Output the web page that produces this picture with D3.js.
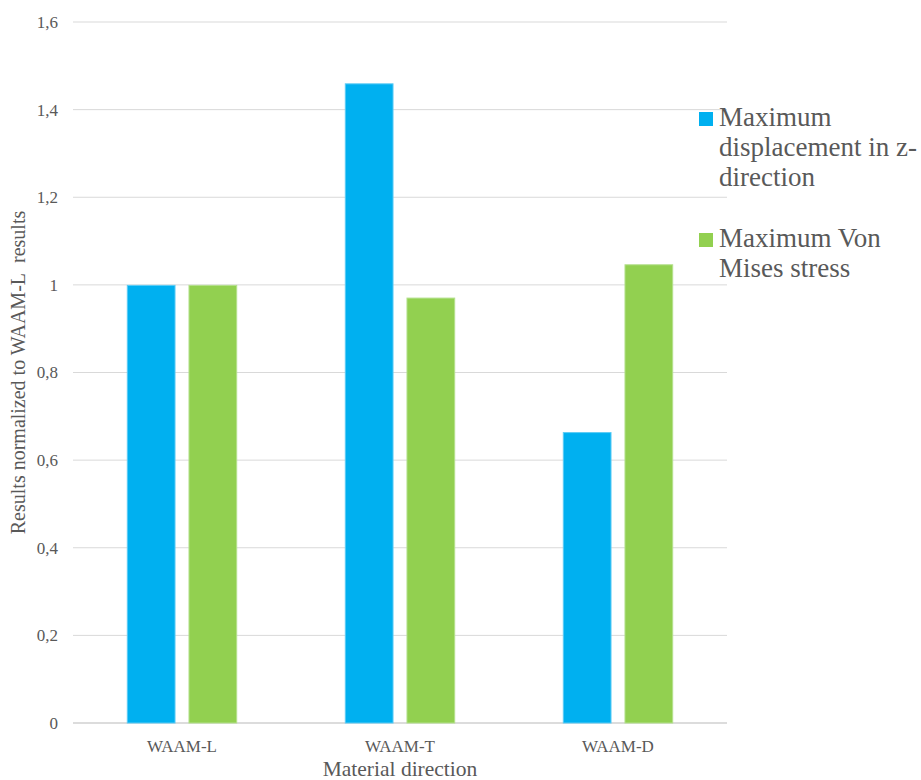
<!DOCTYPE html>
<html>
<head>
<meta charset="utf-8">
<script src="https://cdn.jsdelivr.net/npm/d3@7"></script>
<style>
  body { margin: 0; background: #fff; }
  text { font-family: 'Liberation Serif', 'Times New Roman', serif; fill: #595959; }
</style>
</head>
<body>
<div id="chart"></div>
<script>
const categories = ['WAAM-L', 'WAAM-T', 'WAAM-D'];
const seriesNames = ['Maximum displacement in z-direction', 'Maximum Von Mises stress'];
const displacement = [1.0, 1.46, 0.664];
const vonMises = [1.0, 0.971, 1.047];
const yTicks = [0, 0.2, 0.4, 0.6, 0.8, 1, 1.2, 1.4, 1.6];
const colors = ['#00B0F0', '#92D050'];
const strokes = ['#5ccbf5', '#b4e08c'];

const width = 921, height = 780;
const margin = { top: 22, right: 194, bottom: 57, left: 73 };
const groupWidth = 110.4;

const svg = d3.select('#chart')
  .append('svg')
  .attr('width', width)
  .attr('height', height);

const x = d3.scaleBand()
  .domain(categories)
  .range([margin.left, width - margin.right]);

const inner = d3.scaleBand()
  .domain([0, 1])
  .range([0, groupWidth])
  .paddingInner(0.21);

const y = d3.scaleLinear()
  .domain([0, 1.6])
  .range([height - margin.bottom, margin.top]);

// gridlines
svg.append('g')
  .selectAll('line')
  .data(yTicks)
  .enter()
  .append('line')
  .attr('x1', margin.left)
  .attr('x2', width - margin.right)
  .attr('y1', (d) => y(d))
  .attr('y2', (d) => y(d))
  .attr('stroke', (d) => (d === 0 ? '#d0d0d0' : '#d9d9d9'))
  .attr('stroke-width', (d) => (d === 0 ? 1.5 : 1));

// y tick labels
svg.append('g')
  .selectAll('text')
  .data(yTicks)
  .enter()
  .append('text')
  .attr('x', 58)
  .attr('y', (d) => y(d))
  .attr('dy', '0.35em')
  .attr('text-anchor', 'end')
  .style('font-size', '17px')
  .text((d) => String(d).replace('.', ','));

// bars
const series = [displacement, vonMises];
series.forEach((vals, s) => {
  svg.append('g')
    .selectAll('rect')
    .data(vals)
    .enter()
    .append('rect')
    .attr('x', (d, i) => x(categories[i]) + x.bandwidth() / 2 - groupWidth / 2 + inner(s) + 0.5)
    .attr('y', (d) => y(d) + 0.5)
    .attr('width', inner.bandwidth() - 1)
    .attr('height', (d) => y(0) - y(d) - 0.5)
    .attr('fill', colors[s])
    .attr('stroke', strokes[s])
    .attr('stroke-width', 1);
});

// category labels
svg.append('g')
  .selectAll('text')
  .data(categories)
  .enter()
  .append('text')
  .attr('x', (d) => x(d) + x.bandwidth() / 2)
  .attr('y', 752)
  .attr('text-anchor', 'middle')
  .style('font-size', '17px')
  .text((d) => d);

// axis titles
svg.append('text')
  .attr('x', x('WAAM-T') + x.bandwidth() / 2)
  .attr('y', 776)
  .attr('text-anchor', 'middle')
  .style('font-size', '21.5px')
  .text('Material direction');

svg.append('text')
  .attr('transform', 'translate(25,' + y(0.8) + ') rotate(-90)')
  .attr('text-anchor', 'middle')
  .style('font-size', '20px')
  .text('Results normalized to WAAM-L\u00a0\u00a0results');

// legend
const legendLines = [
  ['Maximum', 'displacement in z-', 'direction'],
  ['Maximum Von', 'Mises stress']
];
const legendTop = [126, 247];
const legend = svg.append('g')
  .selectAll('g')
  .data(legendLines)
  .enter()
  .append('g')
  .attr('transform', (d, i) => 'translate(699,' + legendTop[i] + ')');

legend.append('rect')
  .attr('x', 0)
  .attr('y', -14)
  .attr('width', 14)
  .attr('height', 14)
  .attr('fill', (d, i) => colors[i]);

legend.append('text')
  .attr('x', 20)
  .attr('y', 0)
  .style('font-size', '27px')
  .selectAll('tspan')
  .data((d) => d)
  .enter()
  .append('tspan')
  .attr('x', 20)
  .attr('dy', (d, i) => (i === 0 ? 0 : 30))
  .text((d) => d);
</script>
</body>
</html>
